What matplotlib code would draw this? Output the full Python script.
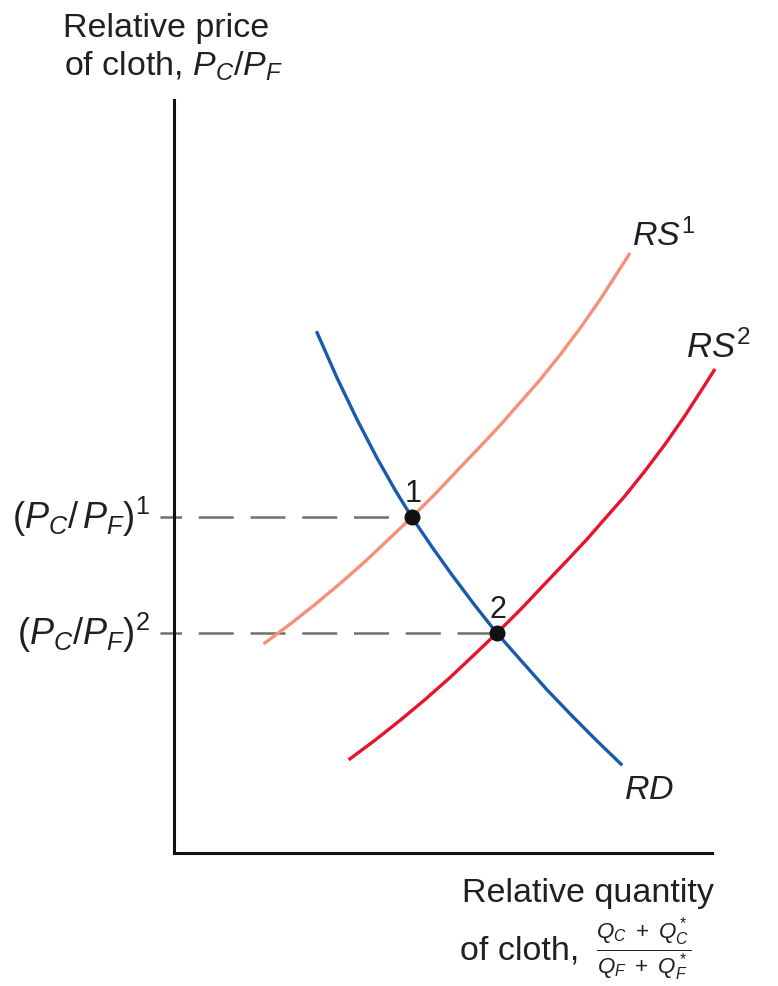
# -*- coding: utf-8 -*-
"""
Relative supply / relative demand diagram (cloth vs food).
"""

import matplotlib
matplotlib.use('Agg')
import matplotlib.pyplot as plt

plt.rcParams['font.family'] = ['Liberation Sans', 'DejaVu Sans']
plt.rcParams['mathtext.fontset'] = 'custom'
plt.rcParams['mathtext.rm'] = 'Liberation Sans'
plt.rcParams['mathtext.it'] = 'Liberation Sans:italic'
plt.rcParams['mathtext.bf'] = 'Liberation Sans:bold'

# Curves (axis units 0-10 on both axes)
rd_x = [2.66, 3.03, 3.40, 3.77, 4.11, 4.42, 4.80, 5.17, 5.58, 6.00, 6.47,
        6.93, 7.40, 7.86, 8.31]
rd_y = [6.91, 6.31, 5.76, 5.25, 4.82, 4.46, 4.06, 3.69, 3.30, 2.92, 2.54,
        2.17, 1.82, 1.49, 1.18]

rs1_x = [1.69, 2.16, 2.62, 3.09, 3.55, 4.01, 4.42, 4.87, 5.32, 5.76, 6.10,
         6.43, 6.80, 7.17, 7.55, 7.92, 8.20, 8.46]
rs1_y = [2.79, 3.04, 3.30, 3.58, 3.87, 4.18, 4.46, 4.78, 5.12, 5.45, 5.71,
         5.98, 6.28, 6.61, 6.97, 7.35, 7.66, 7.95]

rs2_x = [3.27, 3.74, 4.20, 4.67, 5.13, 5.59, 6.00, 6.45, 6.90, 7.34, 7.68,
         8.01, 8.38, 8.75, 9.13, 9.50, 9.78, 10.04]
rs2_y = [1.25, 1.50, 1.76, 2.04, 2.33, 2.64, 2.92, 3.24, 3.58, 3.91, 4.17,
         4.44, 4.74, 5.07, 5.43, 5.81, 6.12, 6.41]

# Equilibria
eq_x = [4.42, 6.00]
eq_y = [4.46, 2.92]
eq_labels = ['1', '2']

price_labels = [r'$(P_C/\,P_F)^1$', r'$(P_C/P_F)^2$']

TXT = '#231f20'
FS = 24.5

W, H = 778, 986


def fpos(x, y):
    """pixel position -> figure fraction"""
    return x / W, 1 - y / H


fig = plt.figure(figsize=(W / 100, H / 100), dpi=100, facecolor='w')
ax = fig.add_axes([174 / W, 133 / H, 538 / W, 753 / H])
ax.set_xlim(0, 10)
ax.set_ylim(0, 10)
ax.set_facecolor('none')

for side in ['top', 'right']:
    ax.spines[side].set_visible(False)
for side in ['left', 'bottom']:
    ax.spines[side].set_linewidth(2.2)
    ax.spines[side].set_color('#111111')
ax.set_xticks([])
ax.set_yticks([])

# Dashed guide lines
for x, y in zip(eq_x, eq_y):
    ax.plot([-0.26, x], [y, y], color='#707070', lw=1.8,
            ls=(5.4, (14, 6.7)), clip_on=False, zorder=1,
            dash_capstyle='butt')

ax.plot(rs1_x, rs1_y, color='#f59178', lw=2.4, clip_on=False, zorder=2)
ax.plot(rs2_x, rs2_y, color='#e6142d', lw=2.4, clip_on=False, zorder=2)
ax.plot(rd_x, rd_y, color='#1a5aab', lw=2.4, clip_on=False, zorder=3)

ax.plot(eq_x, eq_y, 'o', color='#111111', ms=10.5, zorder=5, clip_on=False)
for x, y, lab in zip(eq_x, eq_y, eq_labels):
    ax.annotate(lab, xy=(x, y), xytext=(1, 6), textcoords='offset points',
                ha='center', va='bottom', fontsize=22, color=TXT)

# Curve labels
ax.annotate(r'$RS^1$', xy=(rs1_x[-1], rs1_y[-1]), xytext=(2, 1),
            textcoords='offset points', ha='left', va='bottom',
            fontsize=FS, color=TXT, annotation_clip=False)
ax.annotate(r'$RS^2$', xy=(rs2_x[-1], rs2_y[-1]), xytext=(-20, 9),
            textcoords='offset points', ha='left', va='baseline',
            fontsize=25, color=TXT, annotation_clip=False)
ax.annotate(r'$RD$', xy=(rd_x[-1], rd_y[-1]), xytext=(2, -8),
            textcoords='offset points', ha='left', va='top',
            fontsize=FS, color=TXT, annotation_clip=False)

# Price levels on the vertical axis
for y, lab in zip(eq_y, price_labels):
    ax.annotate(lab, xy=(0, y), xytext=(-17, 0), textcoords='offset points',
                ha='right', va='center', fontsize=26, color=TXT,
                annotation_clip=False)

# Axis titles
fig.text(*fpos(63, 37), 'Relative price', ha='left', va='baseline',
         fontsize=FS, color=TXT)
fig.text(*fpos(64, 76), r'of cloth, $P_C/P_F$', ha='left', va='baseline',
         fontsize=FS, color=TXT)

fig.text(*fpos(462, 902), 'Relative quantity', ha='left', va='baseline',
         fontsize=FS, color=TXT)
fig.text(*fpos(460, 960), 'of cloth,', ha='left', va='baseline',
         fontsize=FS, color=TXT)
fig.text(*fpos(644, 950), r'$\frac{Q_C\ +\ Q_C^*}{Q_F\ +\ Q_F^*}$',
         ha='center', va='center', fontsize=23, color=TXT)

plt.savefig('out.png', dpi=100, facecolor='w')
plt.close()
